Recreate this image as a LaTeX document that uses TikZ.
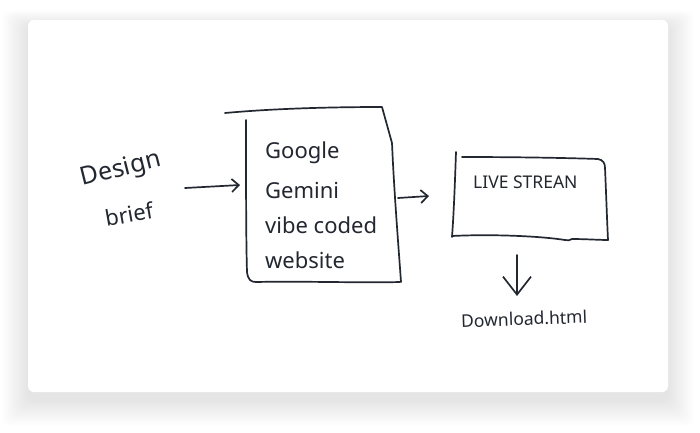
\documentclass[tikz,border=0pt]{standalone}
\usepackage{fontspec}
\setmainfont{Noto Sans}
\usetikzlibrary{arrows.meta}
\definecolor{ink}{HTML}{222730}
\tikzset{
  pen/.style={draw=ink, line width=1.7pt, line cap=round, line join=round},
  arr/.style={pen, -{Straight Barb[length=7pt,width=13pt,line width=1.7pt]}},
  bigarr/.style={pen, -{Straight Barb[length=18pt,width=28pt,line width=1.7pt]}},
  hand/.style={text=ink, inner sep=0pt, font=\fontsize{22}{26}\selectfont},
  big/.style={text=ink, inner sep=0pt, font=\fontsize{25}{28}\selectfont},
  small/.style={text=ink, inner sep=0pt, font=\fontsize{17.5}{20}\selectfont},
}
\begin{document}
\begin{tikzpicture}[x=1pt,y=-1pt]
\useasboundingbox (0,0) rectangle (700,432);
\fill[white] (0,0) rectangle (700,432);
% shadow
\foreach \i in {1,...,26}{
  \fill[black, opacity=0.0045, rounded corners=8pt] (28-\i,20-0.6*\i+6) rectangle (668+\i,392+\i+8);
}
\fill[white, rounded corners=6pt] (28,20) rectangle (668,392);

% Design brief
\node[big, rotate=14] (design) at (121,170) {Design};
\node[hand, rotate=10] (brief) at (129,214) {brief};

% box 1 (sketch)
\coordinate (b1in) at (240,185);
\coordinate (b1out) at (398,198);
\draw[pen] (225,113) .. controls (280,108) and (340,107) .. (382,107)
  -- (392,143) .. controls (394,190) and (398,240) .. (401,282);
\draw[pen] (246,120) .. controls (246,180) and (246,240) .. (247,272)
  .. controls (248,280) and (251,282) .. (256,282)
  .. controls (300,281) and (360,283) .. (400,282);
\node[hand, anchor=west] (l1) at (265,153) {Google};
\node[hand, anchor=west] (l2) at (265,190) {Gemini};
\node[hand, anchor=west] (l3) at (265,225) {vibe coded};
\node[hand, anchor=west] (l4) at (265,260) {website};

% box 2 (sketch)
\coordinate (b2in) at (429,196);
\coordinate (b2down) at (517,255);
\coordinate (dlend) at (517,296);
\draw[pen] (456,152) .. controls (455,180) and (454,210) .. (452,237);
\draw[pen] (462,157) .. controls (520,157) and (570,158) .. (598,159)
  .. controls (603,160) and (605,163) .. (605,168)
  .. controls (606,190) and (607,220) .. (608,240);
\draw[pen] (452,236) .. controls (490,234) and (540,236) .. (565,240)
  .. controls (568,241) and (570,240) .. (572,239)
  .. controls (585,239) and (600,240) .. (608,240);
\node[small, anchor=west] (live) at (473,182) {LIVE STREAN};

% connectors
\coordinate (briefout) at (185,188);
\draw[arr] (briefout) -- (b1in);
\draw[arr] (b1out) -- (b2in);
\draw[bigarr] (b2down) -- (dlend);

\node[small, anchor=west, rotate=2] (dl) at (461,321) {Download.html};
\end{tikzpicture}
\end{document}
